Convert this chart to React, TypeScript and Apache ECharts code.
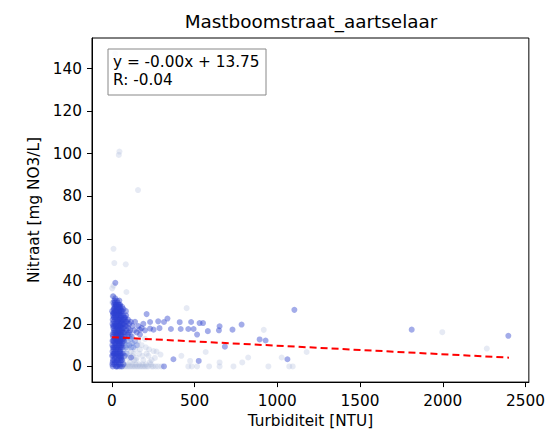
import React, { useEffect, useRef } from "react";
import * as echarts from "echarts";

const chartTitle = "Mastboomstraat_aartselaar";
const xName = "Turbiditeit [NTU]";
const yName = "Nitraat [mg NO3/L]";
const fitLines = ["y = -0.00x + 13.75", "R: -0.04"];

const xTicks = [0, 500, 1000, 1500, 2000, 2500];
const yTicks = [0, 20, 40, 60, 80, 100, 120, 140];

// dark points (recent measurements)
const darkPoints = [
  [5, 2], [8, 5], [10, 8], [12, 12], [6, 15], [9, 18], [11, 21], [7, 24], [14, 27], [10, 30],
  [15, 1], [18, 4], [20, 7], [22, 10], [17, 13], [19, 16], [23, 19], [21, 22], [25, 25], [16, 28],
  [28, 0], [30, 3], [27, 6], [32, 9], [29, 12], [34, 15], [31, 18], [36, 21], [33, 24], [38, 27],
  [35, 30], [40, 2], [42, 5], [39, 8], [44, 11], [41, 14], [46, 17], [43, 20], [48, 23], [45, 26],
  [50, 29], [52, 1], [55, 4], [51, 7], [57, 10], [53, 13], [58, 16], [56, 19], [60, 22], [54, 25],
  [62, 28], [3, 10], [4, 20], [2, 26], [13, 17], [24, 14], [26, 20], [37, 12], [47, 9], [49, 15],
  [59, 21], [65, 18], [70, 20], [68, 24], [75, 16], [78, 22], [82, 19], [88, 17], [92, 21], [85, 26],
  [72, 12], [95, 15], [100, 18], [105, 20], [110, 17], [120, 14], [125, 19], [135, 17], [140, 21],
  [150, 16], [160, 19], [170, 15], [180, 18], [190, 20], [200, 17], [62, 3], [66, 6], [70, 1],
  [64, 9], [8, 33], [20, 32], [30, 31], [45, 31], [5, 0], [35, 0], [48, 0], [25, 0], [60, 0],
  [15, 23], [38, 17], [44, 4], [28, 16], [18, 9], [53, 20], [40, 24], [33, 11], [22, 28],
  [1103, 26.6], [1812, 17.3], [2396, 14.4], [1061, 3.4], [893, 12.7], [929, 12.2], [784, 19.7],
  [729, 17.3], [683, 9.3], [651, 18.9], [647, 17], [580, 16.6], [551, 20.4], [530, 20.4],
  [479, 20.9], [462, 17.6], [494, 17.6], [410, 20.8], [416, 17.6], [357, 17.6], [336, 22.5],
  [315, 20.9], [372, 3.4], [315, 0], [525, 2.6], [515, 15], [288, 18], [252, 17.3], [231, 17.8],
  [231, 20.9], [280, 21.2], [210, 24.6], [168, 17.3], [116, 4.2], [78, 5], [21, 39.3],
];

// dense core of the cloud near zero turbidity
const corePoints = [
  [3, 1], [6, 3], [9, 6], [12, 9], [4, 12], [7, 14], [10, 16], [13, 19], [5, 22], [8, 25],
  [11, 27], [14, 29], [16, 31], [19, 30], [22, 26], [25, 23], [27, 19], [30, 15], [32, 12],
  [35, 8], [37, 5], [40, 1], [42, 28], [44, 25], [46, 22], [48, 19], [50, 16], [52, 12],
  [54, 9], [56, 6], [58, 3], [14, 3], [17, 6], [20, 2], [23, 5], [26, 9], [29, 2], [31, 6],
  [34, 3], [36, 13], [39, 16], [41, 19], [43, 22], [47, 26], [49, 28], [51, 24], [55, 21],
  [57, 18], [60, 14], [62, 11], [63, 20], [66, 22], [68, 16], [72, 18], [76, 20], [80, 23],
  [84, 21], [6, 9], [9, 12], [12, 23], [15, 25], [18, 20], [21, 17], [24, 11], [27, 13],
  [30, 21], [33, 27], [36, 25], [39, 29], [42, 10], [45, 7], [47, 13], [50, 3], [53, 5],
  [18, 26], [21, 13], [24, 8], [27, 29], [30, 26], [33, 18], [36, 16], [39, 22], [42, 15],
  [45, 19], [48, 11], [51, 18], [54, 15], [57, 26], [2, 5], [4, 7], [7, 19], [10, 25],
  [13, 6], [16, 11], [19, 24], [22, 15], [25, 29], [28, 24], [31, 28], [34, 22], [37, 19],
  [40, 12], [43, 17], [46, 29], [49, 6], [52, 27], [55, 23], [58, 24], [61, 17], [64, 26],
  [67, 13], [70, 27], [74, 23], [79, 14], [86, 24], [90, 19], [97, 22], [103, 16], [115, 21],
];

// medium points
const midPoints = [
  [45, 12], [55, 10], [65, 13], [75, 11], [85, 9], [95, 12], [105, 10], [115, 13], [125, 11],
  [60, 15], [80, 16], [100, 14], [70, 8], [90, 6], [110, 15], [130, 9], [50, 8], [40, 14],
  [35, 6], [58, 5], [62, 12], [78, 13], [92, 10], [118, 9], [140, 12], [150, 10],
];

// faded points (older measurements)
const lightPoints = [
  [42, 99.4], [46, 101], [158, 82.9], [10, 55.3], [15, 48.6], [84, 48], [452, 27.4], [918, 17.2],
  [1997, 16.1], [2266, 8.4], [1177, 6.8], [1026, 4.2], [946, 0], [1093, 0], [1072, 0], [824, 4.2],
  [788, 1.9], [651, 1.9], [651, 0], [588, 0], [735, 0], [462, 0], [483, 0], [515, 0], [567, 6.8],
  [420, 5], [473, 2.6], [294, 5.6], [252, 7.2], [221, 5], [88, 35], [2, 36.7], [20, 147],
  [60, 0], [80, 0], [100, 0], [120, 0], [140, 0], [160, 0], [180, 0], [200, 0], [220, 0],
  [250, 0], [280, 0], [300, 0], [70, 3], [90, 5], [110, 2], [130, 6], [150, 4], [170, 8],
  [190, 3], [210, 6], [230, 2], [260, 4], [100, 9], [120, 11], [140, 8], [160, 12], [85, 12],
  [95, 8], [180, 10], [200, 13], [65, 10], [75, 14], [115, 7], [135, 3], [155, 10], [5, 33],
  [3, 30], [10, 38], [30, 25], [40, 20], [2, 15], [50, 12], [25, 5],
  [70, 0], [90, 0], [110, 0], [130, 0], [150, 0], [170, 0], [190, 0], [210, 0], [240, 0],
  [265, 0], [75, 1], [95, 1], [125, 1], [145, 1], [165, 1], [185, 1], [205, 1], [235, 1],
  [105, 4], [125, 5], [145, 3], [165, 6], [185, 5], [205, 9], [225, 8], [240, 3], [270, 7],
];

const fitPoints = [
  [0, 13.75],
  [2400, 4.15],
];

const font = "DejaVu Sans";

export default function App() {
  const ref = useRef<HTMLDivElement>(null);

  useEffect(() => {
    document.body.style.margin = "0";
    if (!ref.current) return;
    const chart = echarts.init(ref.current, null, { renderer: "svg" });

    const tickStyle = {
      show: true,
      inside: false,
      length: 5,
      lineStyle: { color: "#000", width: 1 },
    };

    chart.setOption({
      animation: false,
      backgroundColor: "#fff",
      grid: {
        left: 92,
        right: 18,
        top: 38,
        bottom: 48,
        show: true,
        borderColor: "#000",
        borderWidth: 1,
        backgroundColor: "transparent",
      },
      xAxis: {
        type: "value",
        min: -120,
        max: 2520,
        name: xName,
        nameLocation: "middle",
        nameGap: 30,
        nameTextStyle: { fontFamily: font, fontSize: 15.3, color: "#000" },
        axisLine: { show: true, onZero: false, lineStyle: { color: "#000" } },
        axisTick: { ...tickStyle, customValues: xTicks },
        axisLabel: {
          customValues: xTicks,
          formatter: (v: number) => String(v),
          margin: 11,
          fontFamily: font,
          fontSize: 15.3,
          color: "#000",
        },
        splitLine: { show: false },
      },
      yAxis: {
        type: "value",
        min: -7.35,
        max: 154.35,
        name: yName,
        nameLocation: "middle",
        nameGap: 47,
        nameTextStyle: { fontFamily: font, fontSize: 15.3, color: "#000" },
        axisLine: { show: true, onZero: false, lineStyle: { color: "#000" } },
        axisTick: { ...tickStyle, customValues: yTicks },
        axisLabel: {
          customValues: yTicks,
          formatter: (v: number) => String(v),
          margin: 10,
          fontFamily: font,
          fontSize: 15.3,
          color: "#000",
        },
        splitLine: { show: false },
      },
      series: [
        {
          type: "scatter",
          data: lightPoints,
          symbolSize: 6,
          itemStyle: { color: "rgba(165,180,215,0.35)" },
          silent: true,
        },
        {
          type: "scatter",
          data: midPoints,
          symbolSize: 6,
          itemStyle: { color: "rgba(90,120,220,0.45)" },
          silent: true,
        },
        {
          type: "scatter",
          data: darkPoints,
          symbolSize: 6,
          itemStyle: { color: "rgba(45,65,205,0.55)" },
          silent: true,
        },
        {
          type: "scatter",
          data: corePoints,
          symbolSize: 6,
          itemStyle: { color: "rgba(45,65,210,0.6)" },
          silent: true,
        },
        {
          type: "line",
          data: fitPoints,
          symbol: "none",
          lineStyle: { color: "#f00", width: 2, type: [7, 4] },
          silent: true,
          z: 5,
        },
      ],
      graphic: [
        {
          type: "text",
          x: 311,
          y: 12,
          style: {
            text: chartTitle,
            fontFamily: font,
            fontSize: 18.4,
            fill: "#000",
            textAlign: "center",
          },
        },
        {
          type: "rect",
          shape: { x: 108, y: 49, width: 158, height: 46 },
          style: { fill: "rgba(255,255,255,0.8)", stroke: "#888", lineWidth: 1 },
          z: 10,
        },
        {
          type: "text",
          x: 113,
          y: 53,
          style: {
            text: fitLines.join("\n"),
            fontFamily: font,
            fontSize: 15.3,
            lineHeight: 18,
            fill: "#000",
          },
          z: 11,
        },
      ],
    });

    return () => chart.dispose();
  }, []);

  return <div ref={ref} style={{ width: 548, height: 433 }} />;
}
